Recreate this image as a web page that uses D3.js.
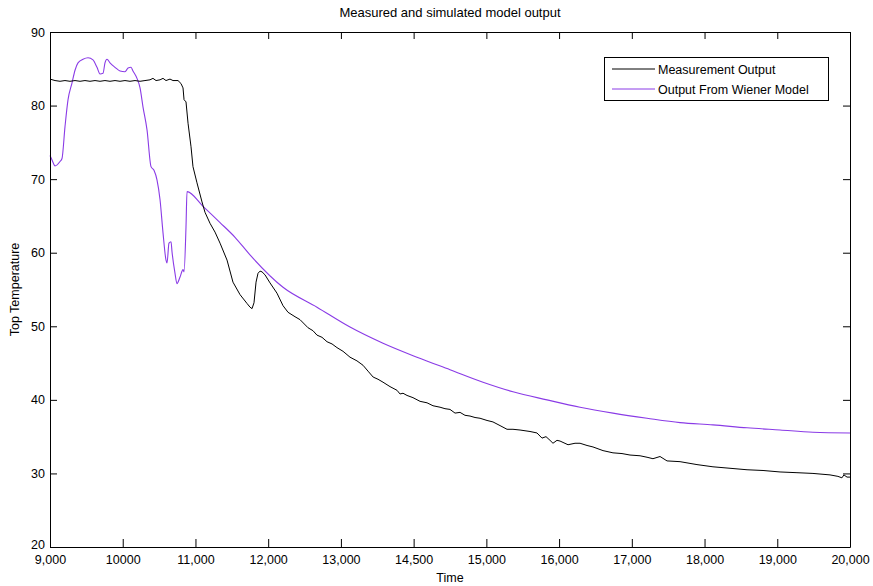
<!DOCTYPE html>
<html>
<head>
<meta charset="utf-8">
<script src="https://cdn.jsdelivr.net/npm/d3@7"></script>
<style>
  html, body { margin: 0; padding: 0; background: #fff; }
  svg { display: block; font-family: "Liberation Sans", Arial, sans-serif; }
</style>
</head>
<body>
<svg id="chart" width="873" height="586"></svg>
<script>
// ---- data ----
const xTicks = [9000, 10000, 11000, 12000, 13000, 14000, 15000, 16000, 17000, 18000, 19000, 20000];
const xTickLabels = ["9,000", "10000", "11,000", "12,000", "13,000", "14,500", "15,000", "16,000", "17,000", "18,000", "19,000", "20,000"];
const yTicks = [20, 30, 40, 50, 60, 70, 80, 90];
const seriesNames = ["Measurement Output", "Output From Wiener Model"];

const measTime = [9000, 9069, 9138, 9206, 9275, 9344, 9413, 9481, 9550, 9619, 9688, 9756, 9825, 9894, 9963, 10031, 10100, 10169, 10238, 10306, 10375, 10416, 10458, 10513, 10554, 10595, 10650, 10691, 10760, 10801, 10829, 10843, 10870, 10898, 10939, 10966, 11021, 11090, 11131, 11200, 11269, 11338, 11434, 11516, 11613, 11709, 11750, 11778, 11805, 11833, 11860, 11888, 11915, 11956, 12025, 12121, 12204, 12273, 12369, 12438, 12548, 12616, 12671, 12740, 12809, 12878, 12946, 13029, 13125, 13221, 13304, 13373, 13443, 13510, 13579, 13675, 13771, 13813, 13854, 13909, 13991, 14088, 14184, 14266, 14363, 14431, 14500, 14569, 14638, 14706, 14775, 14844, 14913, 15009, 15091, 15188, 15284, 15366, 15463, 15600, 15696, 15765, 15820, 15875, 15916, 15971, 16013, 16123, 16219, 16288, 16384, 16466, 16604, 16741, 16865, 16975, 17113, 17209, 17291, 17388, 17484, 17663, 17896, 18116, 18350, 18584, 18804, 19038, 19271, 19491, 19725, 19834, 19889, 19916, 19959, 20000];
const measValue = [83.6, 83.4, 83.3, 83.4, 83.3, 83.4, 83.3, 83.4, 83.3, 83.4, 83.3, 83.4, 83.3, 83.4, 83.3, 83.4, 83.3, 83.4, 83.3, 83.4, 83.5, 83.7, 83.4, 83.5, 83.7, 83.4, 83.6, 83.4, 83.4, 83.0, 82.4, 80.8, 80.5, 77.6, 74.4, 71.7, 69.5, 66.9, 65.5, 64.0, 62.8, 61.3, 59.0, 56.0, 54.3, 53.1, 52.6, 52.4, 53.2, 56.0, 57.2, 57.5, 57.4, 57.0, 55.9, 54.5, 52.8, 51.9, 51.3, 50.9, 49.8, 49.4, 48.8, 48.5, 47.9, 47.6, 47.1, 46.6, 45.8, 45.3, 44.7, 43.9, 43.1, 42.8, 42.4, 41.8, 41.3, 40.8, 40.9, 40.6, 40.3, 39.8, 39.6, 39.2, 39.0, 38.8, 38.7, 38.2, 38.3, 37.9, 37.8, 37.6, 37.5, 37.2, 37.0, 36.5, 36.0, 36.0, 35.9, 35.7, 35.5, 34.8, 35.0, 34.5, 34.1, 34.5, 34.4, 33.9, 34.1, 34.1, 33.8, 33.6, 33.1, 32.8, 32.7, 32.5, 32.4, 32.2, 32.0, 32.3, 31.7, 31.6, 31.2, 30.9, 30.7, 30.5, 30.4, 30.2, 30.1, 30.0, 29.8, 29.6, 29.4, 29.8, 29.5, 29.5];

const wienerTime = [9000, 9028, 9069, 9138, 9165, 9206, 9248, 9303, 9344, 9385, 9454, 9523, 9591, 9646, 9688, 9729, 9756, 9784, 9825, 9894, 9963, 10031, 10073, 10114, 10141, 10196, 10238, 10279, 10334, 10389, 10430, 10471, 10513, 10554, 10595, 10609, 10636, 10664, 10678, 10719, 10746, 10788, 10829, 10843, 10870, 10884, 11104, 11338, 11544, 11750, 12204, 12671, 13125, 13579, 14046, 14500, 14954, 15366, 15834, 16288, 16741, 17209, 17663, 18116, 18584, 19038, 19491, 20000];
const wienerValue = [73.2, 72.6, 71.8, 72.4, 72.8, 77.1, 80.8, 83.1, 84.8, 85.8, 86.3, 86.5, 86.2, 85.2, 84.3, 84.4, 85.8, 86.3, 85.8, 85.2, 84.7, 84.6, 85.1, 85.2, 84.7, 83.7, 82.4, 79.8, 76.7, 71.7, 71.2, 69.9, 67.2, 62.7, 59.0, 58.6, 61.3, 61.5, 60.1, 57.2, 55.8, 56.7, 57.7, 57.4, 63.5, 68.3, 66.3, 64.1, 62.1, 59.7, 55.3, 52.6, 49.9, 47.7, 45.8, 44.1, 42.4, 41.1, 40.0, 39.0, 38.2, 37.5, 36.9, 36.6, 36.2, 35.9, 35.6, 35.5];

// ---- layout ----
const svg = d3.select("#chart");
const L = 50, R = 850, T = 32, B = 547;
const x = d3.scaleLinear().domain([9000, 20000]).range([L, R]);
const y = d3.scaleLinear().domain([20, 90]).range([B, T]);
const colors = ["#000000", "#8a3be6"];

svg.append("rect").attr("x", 0).attr("y", 0).attr("width", 873).attr("height", 586).attr("fill", "#fff");

// lines
const lineLin = d3.line().x(d => x(d[0])).y(d => y(d[1]));
const lineSmooth = d3.line().x(d => x(d[0])).y(d => y(d[1])).curve(d3.curveMonotoneX);
const meas = measTime.map((t, i) => [t, measValue[i]]);
const wien = wienerTime.map((t, i) => [t, wienerValue[i]]);

svg.append("path").datum(wien).attr("d", lineSmooth)
  .attr("fill", "none").attr("stroke", colors[1]).attr("stroke-width", 1.1);
svg.append("path").datum(meas).attr("d", lineLin)
  .attr("fill", "none").attr("stroke", colors[0]).attr("stroke-width", 1);

// axes
function styleAxis(g) {
  g.selectAll("path.domain").attr("stroke", "#000").attr("stroke-width", 1);
  g.selectAll(".tick line").attr("stroke", "#000");
  g.selectAll(".tick text").attr("fill", "#000").attr("font-size", "12.5px")
    .attr("font-family", "Liberation Sans, Arial, sans-serif");
}

svg.append("g").attr("transform", `translate(0,${B})`)
  .call(d3.axisBottom(x).tickValues(xTicks).tickFormat((d, i) => xTickLabels[i])
    .tickSizeInner(-8).tickSizeOuter(0).tickPadding(8))
  .call(styleAxis);

svg.append("g").attr("transform", `translate(0,${T})`)
  .call(d3.axisTop(x).tickValues(xTicks).tickFormat("")
    .tickSizeInner(-7).tickSizeOuter(0))
  .call(styleAxis);

const yAxisG = svg.append("g").attr("transform", `translate(${L},0)`)
  .call(d3.axisLeft(y).tickValues(yTicks).tickFormat(d3.format("d"))
    .tickSizeInner(-7).tickSizeOuter(0).tickPadding(5))
  .call(styleAxis);
// lift the bottom "20" slightly so it sits just above the "9,000" label
yAxisG.selectAll(".tick").filter(d => d === 20).select("text").attr("dy", "0.1em");

svg.append("g").attr("transform", `translate(${R},0)`)
  .call(d3.axisRight(y).tickValues(yTicks).tickFormat("")
    .tickSizeInner(-7).tickSizeOuter(0))
  .call(styleAxis);

// titles
svg.append("text").attr("x", (L + R) / 2).attr("y", 17).attr("text-anchor", "middle")
  .attr("font-size", "13px").attr("fill", "#000").text("Measured and simulated model output");
svg.append("text").attr("x", (L + R) / 2).attr("y", 582).attr("text-anchor", "middle")
  .attr("font-size", "12.5px").attr("fill", "#000").text("Time");
svg.append("text").attr("transform", `translate(19,${(T + B) / 2}) rotate(-90)`)
  .attr("text-anchor", "middle").attr("font-size", "12.5px").attr("fill", "#000").text("Top Temperature");

// legend
const lg = svg.append("g");
lg.append("rect").attr("x", 604.5).attr("y", 57.5).attr("width", 224).attr("height", 43)
  .attr("fill", "#fff").attr("stroke", "#000").attr("stroke-width", 1);
seriesNames.forEach((name, i) => {
  const yy = 69 + i * 20;
  lg.append("line").attr("x1", 612).attr("x2", 655).attr("y1", yy).attr("y2", yy)
    .attr("stroke", colors[i]).attr("stroke-width", 1);
  lg.append("text").attr("x", 658).attr("y", yy + 4.5).attr("font-size", "12.5px")
    .attr("fill", "#000").text(name);
});
</script>
</body>
</html>
